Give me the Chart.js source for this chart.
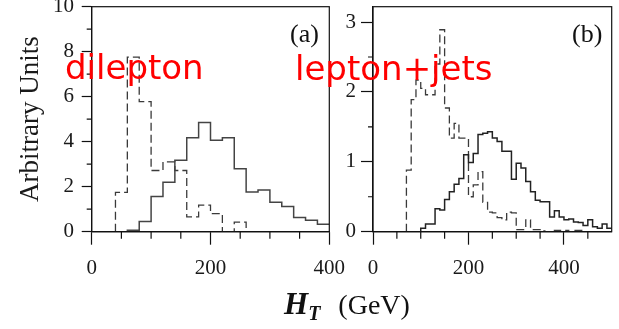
<!DOCTYPE html>
<html>
<head>
<meta charset="utf-8">
<script src="https://cdn.jsdelivr.net/npm/chart.js@4.4.1/dist/chart.umd.min.js"></script>
<style>
  html, body { margin: 0; padding: 0; background: #fff; }
  #wrap { position: relative; width: 619px; height: 329px; overflow: hidden; font-family: "Liberation Serif", serif; }
  #left-chart { position: absolute; left: 0; top: 0; }
  #right-chart { position: absolute; left: 335px; top: 0; }
  .tag { position: absolute; font-size: 26px; line-height: 1; color: #111; }
  .note { position: absolute; font-family: "DejaVu Sans", sans-serif; font-size: 34px; line-height: 1; color: #ff0000; white-space: nowrap; }
  #x-title { position: absolute; left: 284px; top: 288px; font-size: 28px; line-height: 1; color: #111; white-space: nowrap; }
  #x-title .h { font-size: 31px; font-weight: bold; font-style: italic; }
  #x-title sub { font-size: 20px; font-weight: bold; font-style: italic; vertical-align: -0.3em; }
  #x-title .unit { margin-left: 18px; }
</style>
</head>
<body>
<div id="wrap">
  <canvas id="left-chart" width="350" height="329"></canvas>
  <canvas id="right-chart" width="284" height="329"></canvas>
  <div class="tag" style="left:290px; top:21px;">(a)</div>
  <div class="tag" style="left:572px; top:21px;">(b)</div>
  <div class="note" style="left:65px; top:50px;">dilepton</div>
  <div class="note" style="left:295px; top:51px;">lepton+jets</div>
  <div id="x-title"><span class="h">H</span><sub>T</sub><span class="unit">(GeV)</span></div>
</div>
<script>
// (a) dilepton: 20 GeV bins from 0 to 400
const leftBinWidth = 20;
const leftSolid  = [0, 0, 0, 0.07, 0.45, 1.57, 2.2, 3.18, 4.18, 4.85, 4.07, 4.18, 2.8, 1.76, 1.85, 1.31, 1.12, 0.63, 0.51, 0.33];
const leftDashed = [0, 0, 1.75, 7.76, 5.78, 2.72, 3.1, 2.72, 0.66, 1.18, 0.8, 0, 0.43, 0, 0, 0, 0, 0, 0, 0];

// (b) lepton+jets: 10 GeV bins from 0 to 500
const rightBinWidth = 10;
const rightSolid  = [0, 0, 0, 0, 0, 0, 0, 0, 0, 0,
                     0.05, 0.11, 0.11, 0.33, 0.31, 0.46, 0.57, 0.68, 0.76, 1.10,
                     0.99, 1.12, 1.39, 1.41, 1.43, 1.34, 1.29, 1.15, 1.15, 0.75,
                     0.98, 0.91, 0.72, 0.57, 0.45, 0.43, 0.43, 0.21, 0.30, 0.21,
                     0.17, 0.18, 0.14, 0.13, 0.09, 0.17, 0.07, 0.05, 0.11, 0.05];
const rightDashed = [0, 0, 0, 0, 0, 0, 0, 0.88, 1.89, 2.17,
                     2.05, 1.96, 1.96, 2.4, 2.89, 1.77, 1.34, 1.55, 1.34, 1.34,
                     0.5, 0.67, 0.86, 0.42, 0.28, 0.27, 0.2, 0.17, 0.28, 0.27,
                     0.03, 0.03, 0.17, 0.03, 0.03, 0.01, 0, 0, 0.02, 0.02,
                     0.02, 0, 0.02, 0.02, 0, 0, 0, 0, 0, 0];

// axis ticks
const leftMinorX = [50, 100, 150, 250, 300, 350];
const leftMinorY = [1, 3, 5, 7, 9];
const rightMinorX = [50, 100, 150, 250, 300, 350, 450];
const rightMinorY = [0.5, 1.5, 2.5];

// turn bin values into points for a stepped outline (point = left edge of bin)
function histPoints(binWidth, values) {
    let first = values.findIndex(v => v > 0);
    let last = values.length - 1;
    while (last > 0 && values[last] === 0) last--;
    const pts = [{ x: first * binWidth, y: 0 }];
    for (let i = first; i <= last; i++) {
        pts.push({ x: i * binWidth, y: values[i] });
    }
    pts.push({ x: (last + 1) * binWidth, y: values[last] });
    if (last + 1 < values.length) pts.push({ x: (last + 1) * binWidth, y: 0 });
    return pts;
}

// minor ticks and the closing frame round the plot
const frameAndMinor = {
    id: "frameAndMinor",
    afterDraw(chart, args, opts) {
        const { ctx, chartArea } = chart;
        const xs = chart.scales.x, ys = chart.scales.y;
        ctx.save();
        ctx.strokeStyle = "#111";
        ctx.lineWidth = 1.2;
        ctx.beginPath();
        opts.minorX.forEach(v => {
            const px = xs.getPixelForValue(v);
            ctx.moveTo(px, chartArea.bottom);
            ctx.lineTo(px, chartArea.bottom + 7);
        });
        opts.minorY.forEach(v => {
            const py = ys.getPixelForValue(v);
            ctx.moveTo(chartArea.left - 5, py);
            ctx.lineTo(chartArea.left, py);
        });
        ctx.stroke();
        ctx.strokeRect(chartArea.left, chartArea.top, chartArea.width, chartArea.height);
        ctx.restore();
    }
};

const tickFont = { family: "Liberation Serif", size: 21 };

function makePanel(canvasId, cfg) {
    return new Chart(document.getElementById(canvasId), {
        type: "line",
        data: {
            datasets: [
                {
                    data: histPoints(cfg.binWidth, cfg.solid),
                    borderColor: cfg.solidColor,
                    borderWidth: 1.5,
                    stepped: "before",
                    pointRadius: 0,
                    fill: false
                },
                {
                    data: histPoints(cfg.binWidth, cfg.dashed),
                    borderColor: "#3a3a3a",
                    borderWidth: 1.3,
                    borderDash: [8, 4],
                    stepped: "before",
                    pointRadius: 0,
                    fill: false
                }
            ]
        },
        options: {
            responsive: false,
            animation: false,
            events: [],
            layout: { autoPadding: false, padding: cfg.padding },
            plugins: {
                legend: { display: false },
                tooltip: { enabled: false },
                frameAndMinor: { minorX: cfg.minorX, minorY: cfg.minorY }
            },
            scales: {
                x: {
                    type: "linear",
                    min: 0,
                    max: cfg.xMax,
                    border: { color: "#111", width: 1.2 },
                    grid: { drawOnChartArea: false, tickLength: 13, tickColor: "#111", tickWidth: 1.2 },
                    ticks: { stepSize: 200, includeBounds: false, padding: 11, color: "#1a1a1a", font: tickFont, maxRotation: 0, autoSkip: false },
                    afterFit: s => {
                        s.height = 329 - 231.7;
                        s.paddingLeft = 0;
                        s.paddingRight = 0;
                    }
                },
                y: {
                    min: 0,
                    max: cfg.yMax,
                    border: { color: "#111", width: 1.2 },
                    grid: { drawOnChartArea: false, tickLength: cfg.yTickLength, tickColor: "#111", tickWidth: 1.2 },
                    ticks: { stepSize: cfg.yStep, includeBounds: false, padding: cfg.yPad, color: "#1a1a1a", font: tickFont },
                    title: cfg.yTitle,
                    afterFit: s => {
                        s.width = cfg.yWidth;
                        s.paddingTop = 0;
                        s.paddingBottom = 0;
                    }
                }
            }
        },
        plugins: [frameAndMinor]
    });
}

makePanel("left-chart", {
    binWidth: leftBinWidth, solid: leftSolid, dashed: leftDashed, solidColor: "#444",
    xMax: 400, yMax: 10, yStep: 2, yTickLength: 10, yPad: 7.7, yWidth: 91.7,
    minorX: leftMinorX, minorY: leftMinorY,
    padding: { left: 0, top: 6.7, right: 350 - 329.3, bottom: 0 },
    yTitle: {
        display: true, text: "Arbitrary Units", color: "#1a1a1a",
        font: { family: "Liberation Serif", size: 27 },
        padding: { top: 14.8, bottom: 0 }
    }
});

makePanel("right-chart", {
    binWidth: rightBinWidth, solid: rightSolid, dashed: rightDashed, solidColor: "#222",
    xMax: 500, yMax: 3.22, yStep: 1, yTickLength: 12, yPad: 5, yWidth: 38,
    minorX: rightMinorX, minorY: rightMinorY,
    padding: { left: 0, top: 6.7, right: 284 - 276.7, bottom: 0 },
    yTitle: { display: false }
});
</script>
</body>
</html>
